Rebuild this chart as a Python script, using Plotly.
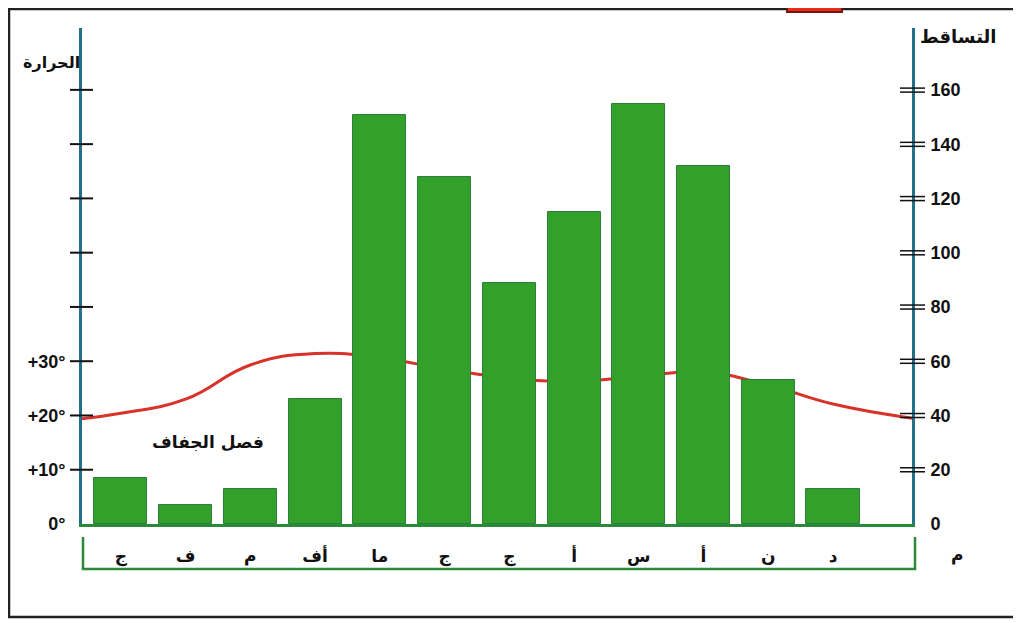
import plotly.graph_objects as go

months = ['ج', 'ف', 'م', 'أف', 'ما', 'ج', 'ج', 'أ', 'س', 'أ', 'ن', 'د']
precip = [17, 7, 13, 46, 151, 128, 89, 115, 155, 132, 53, 13]
temp = [20.4, 23.0, 29.3, 31.4, 30.6, 28.6, 26.9, 26.3, 27.2, 28.0, 25.6, 22.1]
temp_start = 19.4
temp_end = 19.5

temp_tick_vals = [0, 10, 20, 30]
temp_tick_text = ['0°', '+10°', '+20°', '+30°']
temp_tick_marks = [10, 20, 30, 40, 50, 60, 70, 80]
precip_tick_vals = [0, 20, 40, 60, 80, 100, 120, 140, 160]
precip_tick_marks = [20, 40, 60, 80, 100, 120, 140, 160]

x_range = [-0.6, 12.22]
x_idx = list(range(len(months)))

AR = "DejaVu Sans"
NUM = "Liberation Sans"
BLUE = "#23708a"
GREEN = "#2a8a3a"

fig = go.Figure()
fig.add_trace(go.Bar(
    x=x_idx, y=precip, width=0.82, yaxis="y2",
    marker=dict(color="#33a02c", line=dict(color="#2b7f3a", width=1)),
    showlegend=False,
))
fig.add_trace(go.Scatter(
    x=[x_range[0]] + x_idx + [x_range[1]],
    y=[temp_start] + temp + [temp_end],
    mode="lines", line=dict(color="#d8322b", width=3, shape="spline", smoothing=1.3),
    yaxis="y", showlegend=False,
))

shapes = []
for v in temp_tick_marks:
    shapes.append(dict(type="line", xref="paper", xsizemode="pixel", xanchor=0, x0=-12, x1=11,
                       yref="y", y0=v, y1=v, line=dict(color="#111", width=2)))
for v in precip_tick_marks:
    for d in (-2, 2):
        shapes.append(dict(type="line", xref="paper", xsizemode="pixel", xanchor=1, x0=-12, x1=13,
                           yref="y2", ysizemode="pixel", yanchor=v, y0=d, y1=d,
                           line=dict(color="#111", width=1.5)))
# month label bracket
shapes.append(dict(type="path", xref="paper", xsizemode="pixel", xanchor=0,
                   yref="paper", ysizemode="pixel", yanchor=0,
                   path="M 1,-13 L 1,-45 L 833,-45 L 833,-13",
                   line=dict(color=GREEN, width=2.5)))
# outer frame
shapes.append(dict(type="rect", xref="paper", xsizemode="pixel", xanchor=0, x0=-73, x1=935,
                   yref="paper", ysizemode="pixel", yanchor=0, y0=-93, y1=515,
                   line=dict(color="#222", width=2.5)))
# red box at top
shapes.append(dict(type="rect", xref="paper", xsizemode="pixel", xanchor=0, x0=705, x1=760,
                   yref="paper", ysizemode="pixel", yanchor=0, y0=512, y1=530,
                   fillcolor="#ee2a1a", line=dict(color="#6a1a10", width=2)))

annotations = [
    dict(text="<b>الحرارة</b>", xref="paper", yref="paper", x=0, y=1, xshift=-31, yshift=-34,
         xanchor="center", yanchor="middle",
         showarrow=False, font=dict(family=AR, size=16, color="#111")),
    dict(text="<b>التساقط</b>", xref="paper", yref="paper", x=1, y=1, xshift=46, yshift=-8,
         xanchor="center", yanchor="middle",
         showarrow=False, font=dict(family=AR, size=18, color="#111")),
    dict(text="<b>م</b>", xref="paper", yref="paper", x=1, y=0, xshift=45, yshift=-31,
         xanchor="center", yanchor="middle",
         showarrow=False, font=dict(family=AR, size=17, color="#111")),
    dict(text="<b>فصل الجفاف</b>", xref="x", yref="y", x=1.35, y=15.1,
         xanchor="center", yanchor="middle",
         showarrow=False, font=dict(family=AR, size=17, color="#111")),
]

fig.update_layout(
    width=1013, height=615,
    margin=dict(l=74, r=109, t=20, b=99, autoexpand=False),
    paper_bgcolor="white", plot_bgcolor="white",
    bargap=0,
    xaxis=dict(range=x_range, tickvals=x_idx, ticktext=months, showgrid=False, zeroline=False,
               showline=True, linecolor=GREEN, linewidth=3, ticks="", ticklabelstandoff=15,
               tickfont=dict(family=AR, size=17, color="#111")),
    yaxis=dict(range=[0, 91.4], tickvals=temp_tick_vals, ticktext=temp_tick_text,
               showgrid=False, zeroline=False, showline=True, linecolor=BLUE, linewidth=3,
               ticks="", ticklabelstandoff=10,
               tickfont=dict(family=NUM, size=18, color="#111")),
    yaxis2=dict(range=[0, 182.9], tickvals=precip_tick_vals, overlaying="y", side="right",
                showgrid=False, zeroline=False, showline=True, linecolor=BLUE, linewidth=3,
                ticks="", ticklabelstandoff=12,
                tickfont=dict(family=NUM, size=18, color="#111")),
    shapes=shapes, annotations=annotations,
)
fig.update_yaxes(tickfont_weight="bold")
fig.update_xaxes(tickfont_weight="bold")

fig.write_html("out.html")
